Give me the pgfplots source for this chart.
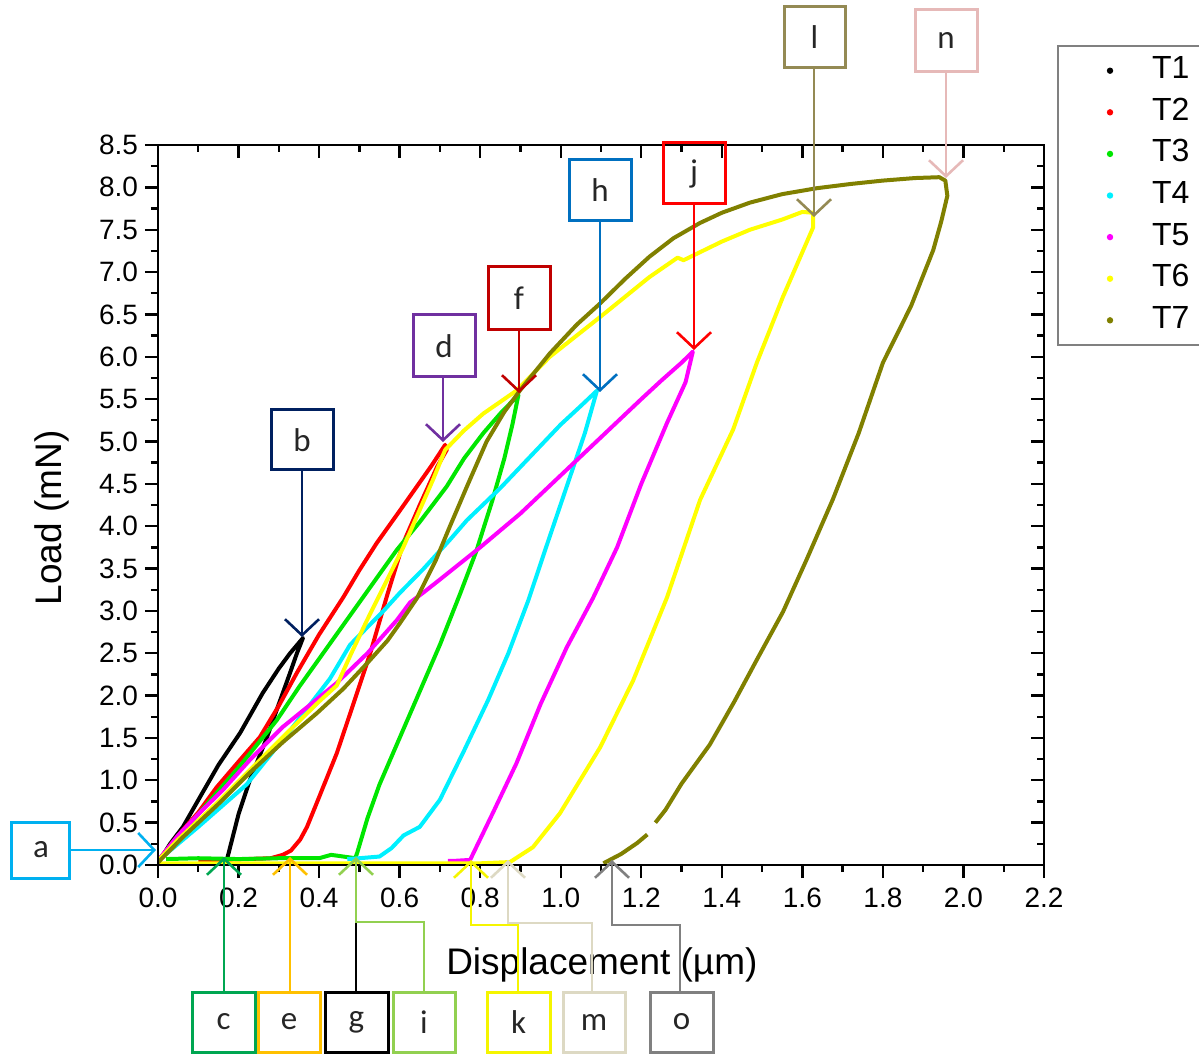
\documentclass[border=0pt]{standalone}
\usepackage{fontspec}
\setmainfont{Liberation Sans}
\newfontfamily\boxfont{Carlito}
\usepackage{pgfplots}
\pgfplotsset{compat=1.18}
\usetikzlibrary{arrows.meta}
\definecolor{tone}{RGB}{0,0,0}
\definecolor{ttwo}{RGB}{255,0,0}
\definecolor{tthree}{RGB}{0,230,0}
\definecolor{tfour}{RGB}{0,240,255}
\definecolor{tfive}{RGB}{255,0,255}
\definecolor{tsix}{RGB}{255,255,0}
\definecolor{tseven}{RGB}{128,128,0}
\definecolor{acol}{RGB}{0,176,240}
\definecolor{bcol}{RGB}{0,32,96}
\definecolor{ccol}{RGB}{0,166,81}
\definecolor{ecol}{RGB}{255,192,0}
\definecolor{icol}{RGB}{146,208,80}
\definecolor{kcol}{RGB}{245,245,0}
\definecolor{mcol}{RGB}{221,217,195}
\definecolor{ocol}{RGB}{128,128,128}
\definecolor{dcol}{RGB}{112,48,160}
\definecolor{fcol}{RGB}{192,0,0}
\definecolor{hcol}{RGB}{0,112,192}
\definecolor{jcol}{RGB}{255,0,0}
\definecolor{lcol}{RGB}{148,138,84}
\definecolor{ncol}{RGB}{230,185,184}
\begin{document}
\begin{tikzpicture}
\pgfplotsset{
  common/.style={
    at={(0,0)}, anchor=south west, scale only axis,
    width=443pt, height=360pt,
    xmin=0, xmax=2.2, ymin=0, ymax=8.5,
    xtick={0,0.2,0.4,0.6,0.8,1.0,1.2,1.4,1.6,1.8,2.0,2.2},
    ytick={0,0.5,1,1.5,2,2.5,3,3.5,4,4.5,5,5.5,6,6.5,7,7.5,8,8.5},
    minor x tick num=1, minor y tick num=1,
    major tick length=6.5pt, minor tick length=3.5pt,
    axis line style={line width=1.2pt},
    tick style={line width=1.2pt, black},
  }
}
\begin{axis}[common,
  xtick pos=bottom, ytick pos=left, tick align=outside,
  /pgf/number format/assume math mode=true,
  /pgf/number format/.cd, fixed, zerofill, precision=1, /pgfplots/.cd,
  ticklabel style={font=\fontsize{14}{16}\selectfont},
  xticklabel style={yshift=-1.5pt},
  xlabel={Displacement (µm)},
  ylabel={Load (mN)},
  xlabel style={font=\fontsize{18.5}{21}\selectfont, at={(axis description cs:0.501,-0.139)}, anchor=center},
  ylabel style={font=\fontsize{18.5}{21}\selectfont, at={(axis description cs:-0.12,0.482)}, anchor=center},
  legend style={at={(1.0147,1.139)}, anchor=north west, draw=gray, line width=1pt,
    inner xsep=2pt, inner ysep=2pt,
    nodes={font=\fontsize{16}{18}\selectfont, text height=11.5pt, text depth=3.5pt, inner ysep=2.9pt, text width=40pt, align=left}},
  legend cell align=left,
  legend image code/.code={\path[draw=none,fill=none] (0pt,-4pt) rectangle (43pt,4pt); \fill[#1, draw=none] (24pt,0pt) circle (1.6pt);},
]
\addplot[color=tone, line width=2pt, line join=round] coordinates {
(0.005,0.06)(0.03,0.25)(0.062,0.45)(0.104,0.80)(0.15,1.18)(0.204,1.56)(0.26,2.03)(0.30,2.32)(0.328,2.50)(0.36,2.68)
(0.345,2.5)(0.328,2.27)(0.30,1.9)(0.27,1.5)(0.228,1.0)(0.20,0.6)(0.171,0.06)};
\addlegendentry{T1}
\addplot[color=ttwo, line width=2pt, line join=round] coordinates {
(0,0.05)(0.05,0.35)(0.1,0.62)(0.146,0.92)(0.2,1.22)(0.253,1.51)(0.30,1.88)(0.345,2.27)(0.40,2.72)(0.46,3.16)(0.50,3.48)(0.543,3.80)(0.60,4.18)(0.643,4.47)(0.68,4.72)(0.713,4.96)
(0.717,4.90)(0.693,4.70)(0.65,4.25)(0.609,3.80)(0.57,3.2)(0.527,2.50)(0.485,1.9)(0.444,1.32)(0.394,0.73)(0.37,0.45)(0.353,0.30)(0.33,0.17)(0.31,0.12)(0.28,0.08)(0.22,0.07)(0.15,0.06)(0.1,0.06)};
\addlegendentry{T2}
\addplot[color=tthree, line width=2pt, line join=round] coordinates {
(0,0.05)(0.05,0.33)(0.1,0.6)(0.2,1.15)(0.295,1.71)(0.35,2.1)(0.41,2.5)(0.5,3.1)(0.593,3.72)(0.65,4.05)(0.717,4.47)(0.76,4.8)(0.808,5.10)(0.85,5.33)(0.895,5.55)
(0.88,5.2)(0.86,4.8)(0.83,4.3)(0.79,3.7)(0.75,3.2)(0.70,2.6)(0.65,2.05)(0.60,1.5)(0.55,0.95)(0.52,0.55)(0.495,0.15)(0.49,0.08)
(0.46,0.1)(0.43,0.12)(0.40,0.08)(0.3,0.08)(0.2,0.07)(0.1,0.08)(0.02,0.07)};
\addlegendentry{T3}
\addplot[color=tfour, line width=2pt, line join=round] coordinates {
(0,0.05)(0.1,0.45)(0.22,0.95)(0.33,1.6)(0.427,2.2)(0.477,2.6)(0.56,3.0)(0.60,3.21)(0.66,3.5)(0.725,3.84)(0.767,4.07)(0.85,4.45)(0.932,4.86)(1.0,5.2)(1.05,5.42)(1.09,5.6)
(1.06,5.1)(1.01,4.4)(0.96,3.7)(0.92,3.13)(0.87,2.5)(0.82,1.95)(0.76,1.35)(0.70,0.77)(0.65,0.45)(0.61,0.35)(0.58,0.2)(0.55,0.1)(0.5,0.08)(0.47,0.07)};
\addlegendentry{T4}
\addplot[color=tfive, line width=2pt, line join=round] coordinates {
(0,0.05)(0.05,0.35)(0.1,0.6)(0.162,0.89)(0.23,1.25)(0.31,1.63)(0.38,1.9)(0.444,2.15)(0.52,2.5)(0.593,2.89)(0.626,3.1)(0.66,3.22)(0.70,3.37)(0.8,3.75)(0.9,4.15)(1.0,4.6)(1.1,5.05)(1.2,5.5)(1.25,5.72)(1.30,5.93)(1.328,6.06)
(1.31,5.7)(1.264,5.22)(1.2,4.5)(1.14,3.75)(1.08,3.15)(1.015,2.57)(0.95,1.9)(0.89,1.2)(0.83,0.6)(0.775,0.06)(0.74,0.05)(0.72,0.05)};
\addlegendentry{T5}
\addplot[color=tsix, line width=2pt, line join=round] coordinates {
(0,0.05)(0.05,0.3)(0.146,0.73)(0.228,1.12)(0.31,1.51)(0.40,1.93)(0.444,2.12)(0.48,2.5)(0.519,2.89)(0.609,3.75)(0.683,4.55)(0.713,4.9)(0.76,5.13)(0.808,5.33)(0.89,5.6)(0.973,6.0)(1.098,6.47)(1.22,6.94)(1.29,7.17)(1.305,7.14)(1.40,7.36)(1.47,7.5)(1.55,7.62)(1.60,7.71)(1.627,7.70)
(1.627,7.53)(1.552,6.71)(1.487,5.93)(1.428,5.14)(1.346,4.31)(1.264,3.16)(1.18,2.18)(1.098,1.39)(0.998,0.61)(0.931,0.21)(0.874,0.035)
(0.8,0.02)(0.6,0.02)(0.4,0.02)(0.2,0.02)(0,0.02)};
\addlegendentry{T6}
\addplot[color=tseven, line width=2pt, line join=round] coordinates {
(0,0.03)(0.062,0.33)(0.15,0.72)(0.228,1.09)(0.31,1.45)(0.394,1.79)(0.46,2.08)(0.519,2.38)(0.57,2.65)(0.6,2.85)(0.643,3.15)(0.69,3.6)(0.725,4.0)(0.77,4.5)(0.816,5.0)(0.86,5.35)(0.9,5.61)(0.973,6.04)(1.04,6.38)(1.098,6.63)(1.16,6.92)(1.22,7.18)(1.28,7.40)(1.346,7.58)(1.40,7.70)(1.47,7.82)(1.55,7.92)(1.636,7.99)(1.72,8.04)(1.80,8.08)(1.88,8.11)(1.94,8.12)(1.955,8.08)
(1.96,7.9)(1.945,7.6)(1.925,7.26)(1.87,6.6)(1.80,5.93)(1.74,5.1)(1.676,4.32)(1.61,3.6)(1.552,2.99)(1.49,2.45)(1.43,1.92)(1.37,1.42)(1.30,0.96)(1.26,0.65)(1.235,0.5)};
\addlegendentry{T7}
\addplot[color=tseven, line width=2pt, line join=round, forget plot] coordinates {
(1.215,0.36)(1.19,0.26)(1.15,0.13)(1.106,0.02)};
\end{axis}
\begin{axis}[common, xtick pos=top, ytick pos=right, tick align=inside,
  xticklabels={}, yticklabels={}]
\end{axis}
\begin{scope}[x=0.5pt, y=-0.5pt, shift={(-79pt,432.5pt)},
  bx/.style={line width=1.5pt},
  ar/.style={line width=1.3pt, -{Straight Barb[length=8pt,width=17pt,line width=1.3pt]}},
  lt/.style={font=\boxfont\fontsize{16.5}{18}\selectfont, text=black!85}]
% boxes
\draw[bx,acol] (12,822) rectangle (70,878); \node[lt] at (41,850) {a};
\draw[bx,bcol] (271,410) rectangle (333,470); \node[lt] at (302,440) {b};
\draw[bx,ccol] (192,992) rectangle (255,1052); \node[lt] at (223.5,1022) {c};
\draw[bx,ecol] (258,992) rectangle (320,1052); \node[lt] at (289,1022) {e};
\draw[bx,black] (325,992) rectangle (388,1052); \node[lt] at (356.5,1022) {g};
\draw[bx,icol] (393,992) rectangle (455,1052); \node[lt] at (424,1022) {i};
\draw[bx,kcol] (487,992) rectangle (550,1052); \node[lt] at (518.5,1022) {k};
\draw[bx,mcol] (563,992) rectangle (625,1052); \node[lt] at (594,1022) {m};
\draw[bx,ocol] (650,992) rectangle (713,1052); \node[lt] at (681.5,1022) {o};
\draw[bx,dcol] (413,315) rectangle (475,377); \node[lt] at (444,346) {d};
\draw[bx,fcol] (488,267) rectangle (550,330); \node[lt] at (519,298.5) {f};
\draw[bx,hcol] (569,160) rectangle (631,221); \node[lt] at (600,190.5) {h};
\draw[bx,jcol] (663,143) rectangle (725,204); \node[lt] at (694,173.5) {j};
\draw[bx,lcol] (784,7) rectangle (845,68); \node[lt] at (814.5,37.5) {l};
\draw[bx,ncol] (915,10) rectangle (977,72); \node[lt] at (946,41) {n};
% arrows
\draw[ar,acol] (70,850) -- (156,850);
\draw[ar,bcol] (302,470) -- (302,637);
\draw[ar,ccol] (224,992) -- (224,857);
\draw[ar,ecol] (290,992) -- (290,857);
\draw[line width=1.3pt,black] (356,992) -- (356,922);
\draw[ar,icol] (424,992) -- (424,922) -- (356,922) -- (356,857);
\draw[ar,kcol] (518,992) -- (518,925) -- (471,925) -- (471,860);
\draw[ar,mcol] (592,992) -- (592,923) -- (508,923) -- (508,860);
\draw[ar,ocol] (680,992) -- (680,925) -- (612,925) -- (612,860);
\draw[ar,dcol] (443,377) -- (443,442);
\draw[ar,fcol] (519,330) -- (519,393);
\draw[ar,hcol] (600,221) -- (600,392);
\draw[ar,jcol] (694,204) -- (694,350);
\draw[ar,lcol] (814,68) -- (814,217);
\draw[ar,ncol] (946,72) -- (946,178);
\pgfresetboundingbox
\path (0,0) rectangle (1199,1055);
\end{scope}
\end{tikzpicture}
\end{document}
